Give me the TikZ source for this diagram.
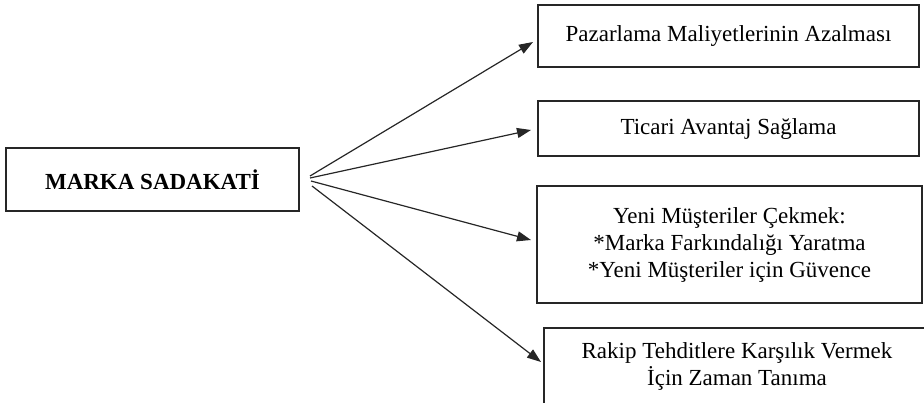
\documentclass[tikz,border=0pt]{standalone}
\usepackage{fontspec}
\setmainfont{Liberation Serif}
\usetikzlibrary{arrows.meta}
\begin{document}
\begin{tikzpicture}[x=1pt,y=-1pt,
  box/.style={draw=black!85,line width=1.3pt,inner sep=0pt,align=center,
    font=\fontsize{23}{27}\selectfont},
  conn/.style={draw=black!85,line width=1.2pt,-{Triangle[length=14pt,width=10pt]}}]
\useasboundingbox (0,0) rectangle (924,402);
\clip (0,0) rectangle (924,402);
\node[box,minimum width=293pt,minimum height=63pt,font=\fontsize{23}{27}\bfseries] (main) at (152.5,179.5) {MARKA SADAKATİ};
\node[box,minimum width=381pt,minimum height=62pt] (b1) at (728.5,36) {Pazarlama Maliyetlerinin Azalması};
\node[box,minimum width=381pt,minimum height=55pt] (b2) at (728.5,128.5) {Ticari Avantaj Sağlama};
\node[box,minimum width=385pt,minimum height=117pt] (b3) at (729.5,244.5) {Yeni Müşteriler Çekmek:\\*Marka Farkındalığı Yaratma\\*Yeni Müşteriler için Güvence};
\node[box,minimum width=386pt,minimum height=76pt] (b4) at (737,366) {Rakip Tehditlere Karşılık Vermek\\İçin Zaman Tanıma};
\coordinate (s1) at (310,176);
\coordinate (s2) at (310,178);
\coordinate (s3) at (311,181);
\coordinate (s4) at (312,186);
\coordinate (e1) at (533,42);
\coordinate (e2) at (531,130);
\coordinate (e3) at (531,240);
\coordinate (e4) at (541,362);
\draw[conn] (s1) -- (e1);
\draw[conn] (s2) -- (e2);
\draw[conn] (s3) -- (e3);
\draw[conn] (s4) -- (e4);
\end{tikzpicture}
\end{document}
